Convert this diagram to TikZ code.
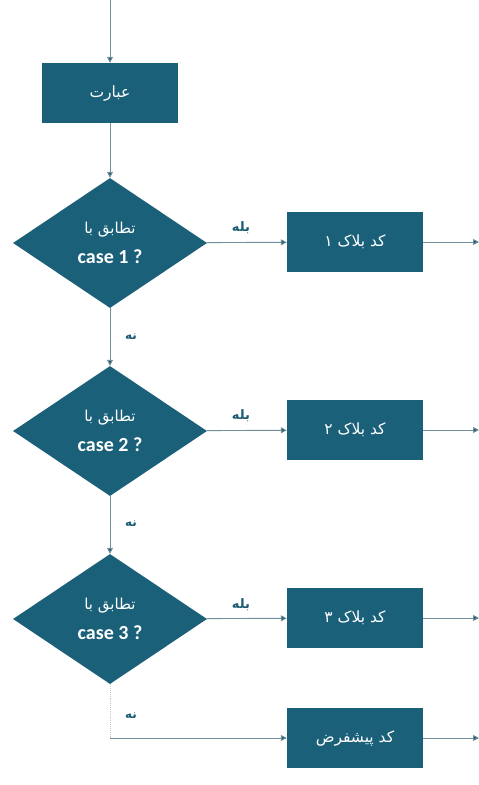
\documentclass[tikz,border=0pt]{standalone}
\usepackage{fontspec}
\setmainfont{Carlito}
\newfontfamily\arabicfont[Script=Arabic]{DejaVu Sans}
\TeXXeTstate=1
\usetikzlibrary{shapes.geometric,arrows.meta}
\definecolor{boxfill}{HTML}{1B6079}
\definecolor{linec}{HTML}{72909A}
\definecolor{labc}{HTML}{1B5C74}
\tikzset{
  procbox/.style={draw=none,fill=boxfill,minimum width=136pt,minimum height=60pt,inner sep=0pt,text=white,font=\arabicfont\fontsize{15.5}{18}\selectfont},
  decbox/.style={diamond,draw=none,fill=boxfill,minimum width=194pt,minimum height=130pt,aspect=1.49,inner sep=0pt,text=white,align=center,font=\bfseries\fontsize{20}{30}\selectfont},
  conn/.style={draw=linec,line width=0.9pt,-{Triangle[length=6pt,width=6pt,fill=labc]}},
  lab/.style={text=labc,font=\arabicfont\bfseries\fontsize{13}{14}\selectfont,inner sep=0pt}
}
\begin{document}
\begin{tikzpicture}[x=1pt,y=-1pt]
\useasboundingbox[fill=white] (0,0) rectangle (479,785);
\coordinate (top) at (110,0);
\node[procbox] (expr) at (110,93) {\beginR عبارت\endR};
\node[decbox] (d1) at (110,243) {{\arabicfont\mdseries\fontsize{15}{30}\selectfont\beginR تطابق با\endR}\\case 1 ?};
\node[decbox] (d2) at (110,431) {{\arabicfont\mdseries\fontsize{15}{30}\selectfont\beginR تطابق با\endR}\\case 2 ?};
\node[decbox] (d3) at (110,619) {{\arabicfont\mdseries\fontsize{15}{30}\selectfont\beginR تطابق با\endR}\\case 3 ?};
\node[procbox] (b1) at (355,242) {\beginR کد بلاک ۱\endR};
\node[procbox] (b2) at (355,430) {\beginR کد بلاک ۲\endR};
\node[procbox] (b3) at (355,618) {\beginR کد بلاک ۳\endR};
\node[procbox] (b4) at (355,738) {\beginR کد پیشفرض\endR};
\coordinate (e1) at (479,242);
\coordinate (e2) at (479,430);
\coordinate (e3) at (479,618);
\coordinate (e4) at (479,738);
\coordinate (corner) at (110,738);
\draw[conn] (top) -- (expr);
\draw[conn] (expr) -- (d1);
\draw[conn] (d1) -- (d2);
\draw[conn] (d2) -- (d3);
\draw[conn] (d1) -- (b1);
\draw[conn] (d2) -- (b2);
\draw[conn] (d3) -- (b3);
\draw[draw=linec!45,line width=0.9pt,densely dotted] (d3.south) -- (corner);
\draw[conn] (corner) -- (b4);
\draw[conn] (b1) -- (e1);
\draw[conn] (b2) -- (e2);
\draw[conn] (b3) -- (e3);
\draw[conn] (b4) -- (e4);
\node[lab] (y1) at (241,228) {\beginR بله\endR};
\node[lab] (y2) at (241,416) {\beginR بله\endR};
\node[lab] (y3) at (241,605) {\beginR بله\endR};
\node[lab,font=\arabicfont\bfseries\fontsize{12}{13}\selectfont] (n1) at (131,337) {\beginR نه\endR};
\node[lab,font=\arabicfont\bfseries\fontsize{12}{13}\selectfont] (n2) at (131,524) {\beginR نه\endR};
\node[lab,font=\arabicfont\bfseries\fontsize{12}{13}\selectfont] (n3) at (131,716) {\beginR نه\endR};
\end{tikzpicture}
\end{document}
